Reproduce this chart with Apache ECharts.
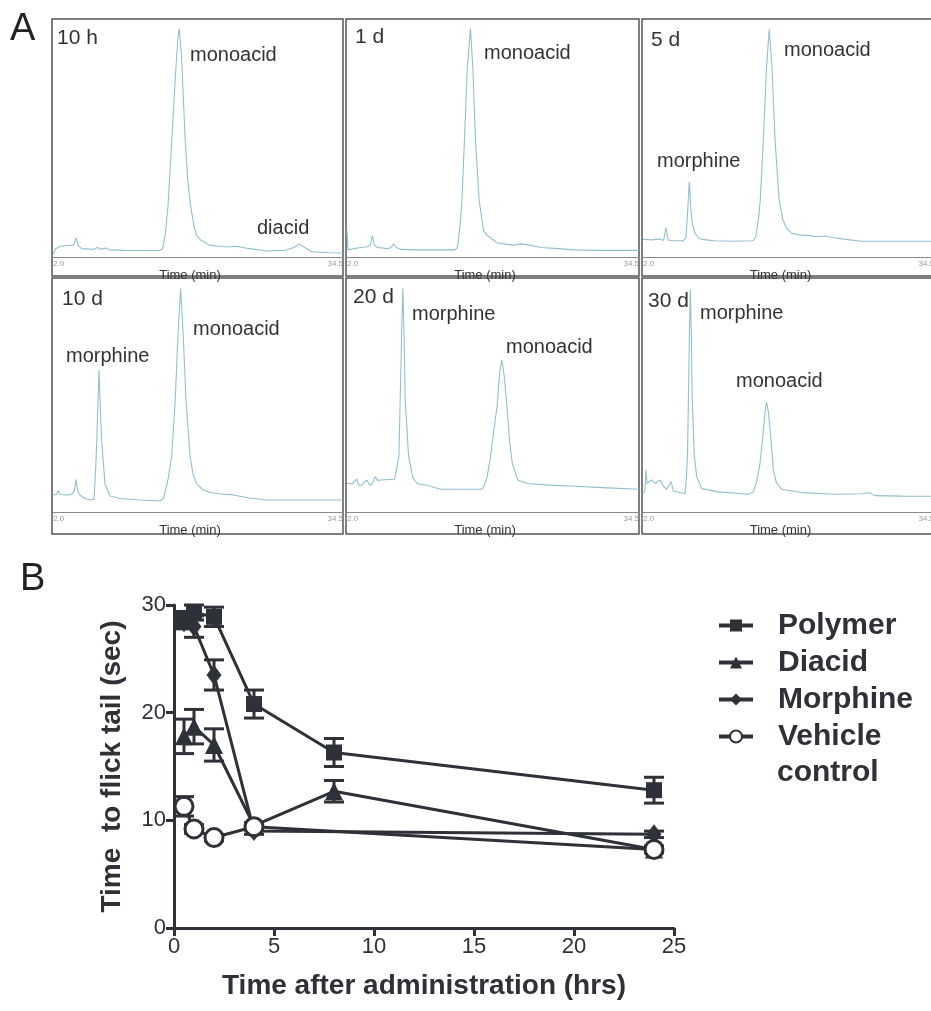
<!DOCTYPE html>
<html>
<head>
<meta charset="utf-8">
<style>
  html, body { margin: 0; padding: 0; background: #fff; }
  #main { width: 931px; height: 1011px; }
</style>
<script src="https://cdn.jsdelivr.net/npm/echarts@6/dist/echarts.min.js"></script>
</head>
<body>
<div id="main"></div>
<script>
// ---- panel A: HPLC traces, [time (min), signal as % of panel height] ----
var trace10h = [[2.0,1],[2.3,3.5],[2.8,4.5],[3.5,4.8],[4.3,5],[4.6,8],[4.8,5],[5.2,3.5],[6.5,3.2],[7.0,4],[7.3,3.2],[7.9,3.8],[8.3,3],
  [10,2.8],[12,2.7],[13.9,2.7],[14.3,3.5],[14.6,10],[14.9,22],[15.3,48],[15.7,75],[16.0,92],[16.15,96],[16.4,85],[16.8,50],[17.1,32],
  [17.4,22],[17.8,13],[18.1,9],[18.6,7],[19.5,5],[20.5,4.5],[21.5,4.2],[22.5,4.5],[24,3.5],[26,2.5],[28,2.8],[29,4],[29.6,5.5],[30.2,4],
  [31,2.2],[33,1.8],[34.5,1.7]];
var trace1d = [[2.0,11],[2.1,3],[2.7,3.5],[3.5,4],[4.2,4.2],[4.6,5],[4.83,9],[5.05,5],[5.4,4],[6.5,3.5],[6.9,4],[7.17,5.5],[7.5,4],[8,3.2],
  [10,3],[12,3],[14.0,3],[14.3,4],[14.6,14],[14.8,24],[15.07,49],[15.4,80],[15.74,96],[16.0,80],[16.3,49],[16.7,24],[17.2,11],[17.6,9],
  [18.0,8],[18.7,6],[19.5,5.5],[20.5,5],[21.4,5.5],[22.3,5],[23.6,4],[25.5,3.5],[27.3,3],[30,2.8],[34.5,2.8]];
var trace5d = [[2.0,7.4],[3.0,7.2],[3.8,7.6],[4.3,7],[4.57,12.3],[4.8,7.2],[5.3,6.8],[6.5,6.8],[6.8,8],[7.0,20],[7.17,31.6],[7.35,20],
  [7.5,14],[7.8,10],[8.2,8],[8.6,7.4],[10,6.8],[12,6.6],[14.3,6.8],[14.6,8.5],[14.9,16],[15.1,24],[15.44,49],[15.8,80],[16.1,95.7],
  [16.4,80],[16.75,49],[17.2,24],[17.6,16],[18.05,12],[18.6,10],[19.5,9.3],[20.5,9],[21.5,8.5],[22.3,8.8],[23.2,8.2],[24.2,7.6],
  [26.4,6.6],[30,6.6],[34.5,6.6]];
var trace10d = [[2.0,7.3],[2.4,7.5],[2.6,9.1],[2.8,7.5],[3.6,7.3],[4.1,7.5],[4.4,9],[4.58,14],[4.75,9],[5.0,7.3],[5.6,5.8],[6.15,5.1],
  [6.6,5.5],[6.8,20],[6.9,30],[7.16,60.7],[7.3,45],[7.46,30],[7.83,12],[8.4,6.8],[9.5,5.8],[11.75,5.1],[14.0,4.7],[14.4,6],[14.9,14],
  [15.3,24],[15.7,48],[16.0,75],[16.3,95.6],[16.6,75],[16.9,48],[17.36,24],[17.7,16],[18.1,12],[18.8,9.5],[19.6,8.3],[20.6,7.8],
  [22.2,7.3],[24,6],[26,5.1],[30,5.1],[34.5,5.1]];
var trace20d = [[2.0,12.2],[2.6,12],[3.08,14],[3.3,11.5],[3.6,11.4],[4.2,13.7],[4.5,11.7],[4.76,11.7],[5.13,15.1],[5.4,13.5],[5.7,13.7],
  [7.3,14],[7.6,20],[7.78,24],[7.92,48],[8.1,80],[8.22,95.6],[8.35,75],[8.48,48],[8.85,24],[9.3,15],[9.8,12.2],[10.9,11.4],[12.4,9.7],
  [16.9,9.7],[17.2,10.5],[17.6,15],[17.98,24],[18.35,35],[18.7,45],[19.0,60],[19.24,65],[19.5,58],[19.84,43.6],[20.1,30],[20.4,20.8],
  [21.0,13.7],[22.1,12.2],[24.5,11.5],[27.3,11],[31,10.3],[34.5,9.7]];
var trace30d = [[2.0,8],[2.2,9],[2.34,18],[2.45,12.2],[2.97,13.7],[3.4,12.2],[3.9,13.7],[4.3,11],[4.65,9.7],[5.13,13],[5.4,9],[5.6,8.3],
  [6.7,7.8],[6.85,15],[6.97,24],[7.07,48],[7.2,80],[7.29,95],[7.4,75],[7.5,48],[7.73,24],[8.0,15],[8.56,10],[10.4,8.6],[13.76,7.6],
  [14.3,8.5],[14.7,13],[15.07,20.8],[15.44,35],[15.7,45],[15.8,47],[16.0,43],[16.2,35],[16.56,17.9],[16.9,12.5],[17.5,9.7],[19.7,8.3],
  [23.45,7.6],[26.5,7.8],[27.2,8.3],[27.9,7],[31,6.8],[34.5,6.7]];
var traces = [trace10h, trace1d, trace5d, trace10d, trace20d, trace30d];
var runStart = 2.0, runEnd = 34.5;

// ---- panel B: tail flick latency (sec) vs hours after administration ----
var hoursFull = [0.5, 1, 2, 4, 8, 24];
var hoursShort = [0.5, 1, 2, 4, 24];
var polymerMean = [28.6, 29.3, 28.9, 20.8, 16.3, 12.8];
var polymerSem = [0.8, 0.7, 0.9, 1.3, 1.3, 1.2];
var diacidMean = [17.8, 18.7, 17.0, 9.5, 12.7, 7.3];
var diacidSem = [1.6, 1.6, 1.5, 0.3, 1.0, 0.3];
var morphineMean = [28.4, 28.0, 23.5, 9.0, 8.7];
var morphineSem = [0.6, 1.0, 1.4, 0.3, 0.3];
var vehicleMean = [11.3, 9.2, 8.4, 9.4, 7.3];
var vehicleSem = [0.9, 0.4, 0.3, 0.3, 0.3];

var ink = '#2f3139';
var traceColor = '#93bfcd';
var font = '"Liberation Sans", Arial, Helvetica, sans-serif';

// panel A layout
var colLeft = [52, 346, 642];
var colWidth = [291, 293, 292];
var rowTop = [19, 278];
var rowAxis = [257, 512];
var rowBottom = [276, 534];

var peakLabels = [
  [0, '10 h', 57, 38, 21], [0, 'monoacid', 190, 55, 20], [0, 'diacid', 257, 228, 20],
  [1, '1 d', 355, 37, 21], [1, 'monoacid', 484, 53, 20],
  [2, '5 d', 651, 40, 21], [2, 'monoacid', 784, 50, 20], [2, 'morphine', 657, 161, 20],
  [3, '10 d', 62, 299, 21], [3, 'monoacid', 193, 329, 20], [3, 'morphine', 66, 356, 20],
  [4, '20 d', 353, 297, 21], [4, 'morphine', 412, 314, 20], [4, 'monoacid', 506, 347, 20],
  [5, '30 d', 648, 301, 21], [5, 'morphine', 700, 313, 20], [5, 'monoacid', 736, 381, 20]
];

var grids = [], xAxes = [], yAxes = [], series = [], graphics = [];

for (var i = 0; i < 6; i++) {
  var r = Math.floor(i / 3), c = i % 3;
  grids.push({
    left: colLeft[c] + 1, top: rowTop[r],
    width: colWidth[c] - 1, height: rowAxis[r] - rowTop[r],
    outerBoundsMode: 'none'
  });
  xAxes.push({
    gridIndex: i, type: 'value', min: runStart, max: runEnd, interval: runEnd - runStart,
    axisLine: { lineStyle: { color: '#8a8a8a', width: 1 } },
    axisTick: { show: false },
    splitLine: { show: false },
    axisLabel: {
      margin: 3, fontSize: 8, color: '#9a9a9a', fontFamily: font,
      alignMinLabel: 'left', alignMaxLabel: 'right',
      formatter: function (v) { return v.toFixed(1); }
    },
    name: 'Time (min)', nameLocation: 'middle', nameGap: 10,
    nameTextStyle: { fontSize: 13, color: '#333', fontFamily: font, padding: [0, 16, 0, 0] }
  });
  yAxes.push({ gridIndex: i, type: 'value', min: 0, max: 100, show: false });
  series.push({
    type: 'line', xAxisIndex: i, yAxisIndex: i, data: traces[i],
    symbol: 'none', silent: true,
    lineStyle: { color: traceColor, width: 1.1 }
  });
  graphics.push({
    type: 'rect', silent: true,
    shape: { x: colLeft[c], y: rowTop[r], width: colWidth[c], height: rowBottom[r] - rowTop[r] },
    style: { fill: 'none', stroke: '#555', lineWidth: 1.5 }
  });
}

peakLabels.forEach(function (p) {
  graphics.push({
    type: 'text', x: p[2], y: p[3], silent: true,
    style: { text: p[1], fontSize: p[4], fontFamily: font, fill: '#333', verticalAlign: 'middle' }
  });
});

graphics.push({ type: 'text', x: 10, y: 30, style: { text: 'A', fontSize: 38, fontFamily: font, fill: '#222', verticalAlign: 'middle' } });
graphics.push({ type: 'text', x: 20, y: 580, style: { text: 'B', fontSize: 38, fontFamily: font, fill: '#222', verticalAlign: 'middle' } });
graphics.push({ type: 'text', x: 777, y: 773, style: { text: 'control', fontSize: 30, fontWeight: 'bold', fontFamily: font, fill: ink, verticalAlign: 'middle' } });

// panel B grid
grids.push({ left: 174, top: 605, width: 500, height: 323, outerBoundsMode: 'none' });
xAxes.push({
  gridIndex: 6, type: 'value', min: 0, max: 25, interval: 5,
  axisLine: { lineStyle: { color: ink, width: 3 } },
  axisTick: { length: 8, lineStyle: { color: ink, width: 3 } },
  splitLine: { show: false },
  axisLabel: { fontSize: 22, color: ink, fontFamily: font, margin: 8 },
  name: 'Time after administration (hrs)', nameLocation: 'middle', nameGap: 44,
  nameTextStyle: { fontSize: 28, fontWeight: 'bold', color: ink, fontFamily: font }
});
yAxes.push({
  gridIndex: 6, type: 'value', min: 0, max: 30, interval: 10,
  axisLine: { show: true, lineStyle: { color: ink, width: 3 } },
  axisTick: { show: true, length: 8, lineStyle: { color: ink, width: 3 } },
  splitLine: { show: false },
  axisLabel: { fontSize: 22, color: ink, fontFamily: font, margin: 8 },
  name: 'Time  to flick tail (sec)', nameLocation: 'middle', nameGap: 48,
  nameTextStyle: { fontSize: 28, fontWeight: 'bold', color: ink, fontFamily: font }
});

function pairs(xs, ys) {
  return xs.map(function (x, k) { return [x, ys[k]]; });
}

function meanSeries(name, xs, ys, symbol, size, filled) {
  return {
    type: 'line', name: name, xAxisIndex: 6, yAxisIndex: 6,
    data: pairs(xs, ys), symbol: symbol, symbolSize: size,
    lineStyle: { color: ink, width: 3 },
    itemStyle: filled ? { color: ink } : { color: '#fff', borderColor: ink, borderWidth: 3 },
    z: filled ? 4 : 6
  };
}

function errorSeries(name, xs, ys, es) {
  return {
    type: 'custom', name: name + ' SEM', xAxisIndex: 6, yAxisIndex: 6, silent: true,
    data: xs.map(function (x, k) { return [x, ys[k] - es[k], ys[k] + es[k]]; }),
    encode: { x: 0, y: [1, 2] },
    z: 5,
    renderItem: function (params, api) {
      var lo = api.coord([api.value(0), api.value(1)]);
      var hi = api.coord([api.value(0), api.value(2)]);
      var w = 10, st = { stroke: ink, lineWidth: 3 };
      return {
        type: 'group',
        children: [
          { type: 'line', shape: { x1: lo[0], y1: lo[1], x2: hi[0], y2: hi[1] }, style: st },
          { type: 'line', shape: { x1: lo[0] - w, y1: lo[1], x2: lo[0] + w, y2: lo[1] }, style: st },
          { type: 'line', shape: { x1: hi[0] - w, y1: hi[1], x2: hi[0] + w, y2: hi[1] }, style: st }
        ]
      };
    }
  };
}

series.push(errorSeries('Polymer', hoursFull, polymerMean, polymerSem));
series.push(errorSeries('Diacid', hoursFull, diacidMean, diacidSem));
series.push(errorSeries('Morphine', hoursShort, morphineMean, morphineSem));
series.push(errorSeries('Vehicle control', hoursShort, vehicleMean, vehicleSem));
series.push(meanSeries('Polymer', hoursFull, polymerMean, 'rect', 16, true));
series.push(meanSeries('Diacid', hoursFull, diacidMean, 'triangle', 18, true));
series.push(meanSeries('Morphine', hoursShort, morphineMean, 'diamond', [15, 20], true));
series.push(meanSeries('Vehicle control', hoursShort, vehicleMean, 'circle', 18, false));

var chart = echarts.init(document.getElementById('main'), null, { renderer: 'canvas' });
chart.setOption({
  animation: false,
  backgroundColor: '#fff',
  grid: grids,
  xAxis: xAxes,
  yAxis: yAxes,
  legend: {
    orient: 'vertical', left: 717, top: 610, padding: 0,
    data: ['Polymer', 'Diacid', 'Morphine', 'Vehicle control'],
    itemWidth: 34, itemHeight: 15, itemGap: 6, selectedMode: false,
    lineStyle: { width: 4 },
    formatter: function (n) { return n === 'Vehicle control' ? 'Vehicle' : n; },
    textStyle: { fontSize: 30, fontWeight: 'bold', color: ink, fontFamily: font, lineHeight: 31, padding: [0, 0, 0, 20] }
  },
  graphic: graphics,
  series: series
});
</script>
</body>
</html>
